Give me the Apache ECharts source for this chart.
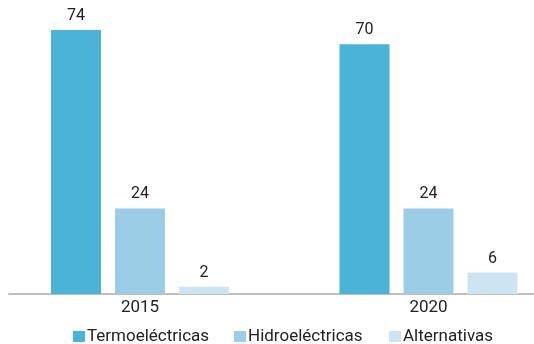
<!DOCTYPE html>
<html>
<head>
<meta charset="utf-8">
<script src="https://cdn.jsdelivr.net/npm/echarts@6/dist/echarts.min.js"></script>
<style>html,body{margin:0;padding:0;background:#fff}#c{width:534px;height:344px}</style>
</head>
<body>
<div id="c"></div>
<script>
var categories = ['2015', '2020'];
var seriesNames = ['Termoeléctricas', 'Hidroeléctricas', 'Alternativas'];
var termo = [74, 70];
var hidro = [24, 24];
var alternativas = [2, 6];
var colors = ['#4bb3d8', '#9bcee6', '#cde4f2'];

var font = 'Roboto, "Liberation Sans", sans-serif';
var chart = echarts.init(document.getElementById('c'), null, {renderer: 'canvas'});

function mkSeries(name, data, color) {
  return {
    name: name, type: 'bar', data: data, xAxisIndex: 0, yAxisIndex: 0,
    barWidth: 50, barGap: '28%',
    itemStyle: {color: color},
    label: {show: true, position: 'top', distance: 6, color: '#222', fontSize: 16, fontFamily: font},
    emphasis: {disabled: true}
  };
}
function mkLegend(name, left) {
  return {
    data: [name], left: left, top: 328, padding: 0, itemWidth: 12, itemHeight: 11, icon: 'rect',
    textStyle: {fontSize: 17, color: '#222', fontFamily: font, padding: [0, 0, 0, -3]},
    selectedMode: false
  };
}

chart.setOption({
  animation: false,
  grid: [
    {left: -4.25, width: 577, top: 8.6, bottom: 50, outerBoundsMode: 'none', containLabel: false},
    {left: 9, right: 0, top: 8.6, bottom: 50, outerBoundsMode: 'none', containLabel: false}
  ],
  xAxis: [
    {type: 'category', gridIndex: 0, data: categories,
     axisLine: {show: false}, axisTick: {show: false},
     axisLabel: {fontSize: 17, color: '#222', fontFamily: font, margin: 5}},
    {type: 'value', gridIndex: 1, min: 0, max: 1, show: true,
     axisLine: {show: true, onZero: false, lineStyle: {color: '#bfbfbf', width: 2}},
     axisTick: {show: false}, axisLabel: {show: false}, splitLine: {show: false}}
  ],
  yAxis: [
    {type: 'value', gridIndex: 0, min: 0, max: 80, show: false, splitLine: {show: false}},
    {type: 'value', gridIndex: 1, min: 0, max: 1, show: false, splitLine: {show: false}}
  ],
  legend: [mkLegend(seriesNames[0], 73), mkLegend(seriesNames[1], 234), mkLegend(seriesNames[2], 389)],
  series: [
    mkSeries(seriesNames[0], termo, colors[0]),
    mkSeries(seriesNames[1], hidro, colors[1]),
    mkSeries(seriesNames[2], alternativas, colors[2])
  ]
});
</script>
</body>
</html>
